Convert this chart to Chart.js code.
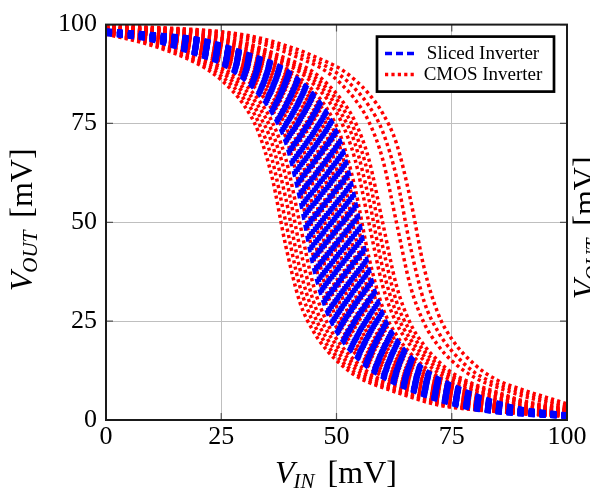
<!DOCTYPE html>
<html>
<head>
<meta charset="utf-8">
<script src="https://cdn.jsdelivr.net/npm/chart.js@4.4.0/dist/chart.umd.min.js"></script>
<style>
html, body { margin: 0; padding: 0; background: #fff; }
canvas { display: block; }
</style>
</head>
<body>
<canvas id="vtcChart" width="590" height="496"></canvas>
<script>
// input voltage samples [mV]
const vin = [0, 10, 20, 25, 30, 33, 36, 39, 42, 45, 48, 51, 54, 57, 60, 63, 66, 69, 72, 75, 80, 85, 90, 100];
const axisTicks = [0, 25, 50, 75, 100];
const legendLabels = ['Sliced Inverter', 'CMOS Inverter'];

// output voltage [mV] of each sliced inverter run (blue, dashed)
const slicedRuns = [
  [97.5, 95.9, 92.2, 90, 86, 82.5, 77.6, 70, 56, 38.5, 27, 20.5, 16.2, 13, 10.7, 9, 7.5, 6.1, 4.9, 3.9, 2.6, 1.8, 1.3, 0.7],
  [97.6, 96.1, 92.4, 90.3, 86.5, 83.2, 78.6, 71.5, 58.8, 41.3, 28.5, 21.5, 16.9, 13.5, 11, 9.3, 7.8, 6.3, 5.1, 4.1, 2.7, 1.9, 1.4, 0.7],
  [97.6, 96.2, 92.6, 90.5, 87, 83.8, 79.5, 73, 61.5, 44, 30, 22.4, 17.5, 14, 11.3, 9.5, 8, 6.5, 5.3, 4.2, 2.8, 1.9, 1.4, 0.7],
  [97.7, 96.4, 92.8, 90.8, 87.5, 84.4, 80.3, 74.3, 63.8, 47, 32, 23.5, 18.2, 14.5, 11.7, 9.8, 8.3, 6.8, 5.5, 4.4, 2.9, 2, 1.5, 0.8],
  [97.7, 96.5, 93, 91, 88, 85, 81.1, 75.5, 66, 50, 34, 24.5, 18.9, 15, 12, 10, 8.5, 7, 5.7, 4.5, 3, 2, 1.5, 0.8],
  [97.8, 96.6, 93.2, 91.2, 88.4, 85.5, 81.8, 76.6, 68, 53, 36.3, 25.8, 19.7, 15.6, 12.5, 10.4, 8.8, 7.3, 5.9, 4.7, 3.2, 2.1, 1.6, 0.8],
  [97.8, 96.6, 93.4, 91.4, 88.7, 86, 82.5, 77.6, 70, 56, 38.5, 27, 20.5, 16.2, 13, 10.7, 9, 7.5, 6.1, 4.9, 3.3, 2.2, 1.6, 0.8],
  [97.9, 96.7, 93.6, 91.6, 89, 86.5, 83.2, 78.6, 71.5, 58.8, 41.3, 28.5, 21.5, 16.9, 13.5, 11, 9.3, 7.8, 6.3, 5.1, 3.5, 2.3, 1.7, 0.9],
  [97.9, 96.8, 93.8, 91.8, 89.3, 87, 83.8, 79.5, 73, 61.5, 44, 30, 22.4, 17.5, 14, 11.3, 9.5, 8, 6.5, 5.3, 3.6, 2.4, 1.7, 0.9],
  [98, 96.9, 94, 92, 89.7, 87.5, 84.4, 80.3, 74.3, 63.8, 47, 32, 23.5, 18.2, 14.5, 11.7, 9.8, 8.3, 6.8, 5.5, 3.8, 2.5, 1.8, 0.9],
  [98, 97, 94.2, 92.2, 90, 88, 85, 81.1, 75.5, 66, 50, 34, 24.5, 18.9, 15, 12, 10, 8.5, 7, 5.7, 3.9, 2.6, 1.8, 0.9],
  [98.1, 97.1, 94.4, 92.4, 90.3, 88.4, 85.5, 81.8, 76.6, 68, 53, 36.3, 25.8, 19.7, 15.6, 12.5, 10.4, 8.8, 7.3, 5.9, 4.1, 2.7, 1.9, 1],
  [98.1, 97.1, 94.6, 92.6, 90.5, 88.7, 86, 82.5, 77.6, 70, 56, 38.5, 27, 20.5, 16.2, 13, 10.7, 9, 7.5, 6.1, 4.2, 2.8, 1.9, 1],
  [98.2, 97.2, 94.8, 92.8, 90.8, 89, 86.5, 83.2, 78.6, 71.5, 58.8, 41.3, 28.5, 21.5, 16.9, 13.5, 11, 9.3, 7.8, 6.3, 4.4, 2.9, 2, 1],
  [98.2, 97.2, 95, 93, 91, 89.3, 87, 83.8, 79.5, 73, 61.5, 44, 30, 22.4, 17.5, 14, 11.3, 9.5, 8, 6.5, 4.5, 3, 2, 1],
  [98.3, 97.3, 95.2, 93.2, 91.2, 89.7, 87.5, 84.4, 80.3, 74.3, 63.8, 47, 32, 23.5, 18.2, 14.5, 11.7, 9.8, 8.3, 6.8, 4.7, 3.2, 2.1, 1.1],
  [98.3, 97.3, 95.3, 93.4, 91.4, 90, 88, 85, 81.1, 75.5, 66, 50, 34, 24.5, 18.9, 15, 12, 10, 8.5, 7, 4.9, 3.3, 2.2, 1.1],
  [98.4, 97.4, 95.5, 93.6, 91.6, 90.3, 88.4, 85.5, 81.8, 76.6, 68, 53, 36.3, 25.8, 19.7, 15.6, 12.5, 10.4, 8.8, 7.3, 5.1, 3.5, 2.3, 1.2],
  [98.4, 97.4, 95.6, 93.8, 91.8, 90.5, 88.7, 86, 82.5, 77.6, 70, 56, 38.5, 27, 20.5, 16.2, 13, 10.7, 9, 7.5, 5.3, 3.6, 2.4, 1.2],
  [98.5, 97.5, 95.8, 94, 92, 90.8, 89, 86.5, 83.2, 78.6, 71.5, 58.8, 41.3, 28.5, 21.5, 16.9, 13.5, 11, 9.3, 7.8, 5.5, 3.8, 2.5, 1.3],
  [98.5, 97.5, 95.9, 94.2, 92.2, 91, 89.3, 87, 83.8, 79.5, 73, 61.5, 44, 30, 22.4, 17.5, 14, 11.3, 9.5, 8, 5.7, 3.9, 2.6, 1.3],
  [98.5, 97.6, 96.1, 94.4, 92.4, 91.2, 89.7, 87.5, 84.4, 80.3, 74.3, 63.8, 47, 32, 23.5, 18.2, 14.5, 11.7, 9.8, 8.3, 5.9, 4.1, 2.7, 1.4],
  [98.5, 97.6, 96.2, 94.6, 92.6, 91.4, 90, 88, 85, 81.1, 75.5, 66, 50, 34, 24.5, 18.9, 15, 12, 10, 8.5, 6.1, 4.2, 2.8, 1.4],
  [98.6, 97.7, 96.4, 94.8, 92.8, 91.6, 90.3, 88.4, 85.5, 81.8, 76.6, 68, 53, 36.3, 25.8, 19.7, 15.6, 12.5, 10.4, 8.8, 6.3, 4.4, 2.9, 1.5],
  [98.6, 97.7, 96.5, 95, 93, 91.8, 90.5, 88.7, 86, 82.5, 77.6, 70, 56, 38.5, 27, 20.5, 16.2, 13, 10.7, 9, 6.5, 4.5, 3, 1.5]
];

// output voltage [mV] of each CMOS inverter run (red, dotted)
const cmosRuns = [
  [97.6, 94.7, 90, 86, 79.5, 73, 61.5, 44, 30, 22.4, 17.5, 14, 11.3, 9.5, 8.2, 7, 5.8, 4.7, 3.8, 3.2, 2.6, 2.1, 1.6, 0.9],
  [97.8, 95.1, 90.5, 87, 81.1, 75.5, 66, 50, 34, 24.5, 18.9, 15, 12, 10, 8.6, 7.4, 6.2, 5, 4.1, 3.4, 2.7, 2.2, 1.7, 1],
  [98, 95.5, 91, 88, 82.5, 77.6, 70, 56, 38.5, 27, 20.5, 16.2, 13, 10.7, 9, 7.8, 6.6, 5.4, 4.4, 3.5, 2.8, 2.3, 1.8, 1],
  [98.1, 95.8, 91.5, 88.7, 83.8, 79.5, 73, 61.5, 44, 30, 22.4, 17.5, 14, 11.3, 9.5, 8.2, 7, 5.8, 4.7, 3.8, 2.9, 2.4, 1.9, 1.1],
  [98.2, 96.1, 92, 89.3, 85, 81.1, 75.5, 66, 50, 34, 24.5, 18.9, 15, 12, 10, 8.6, 7.4, 6.2, 5, 4.1, 3, 2.5, 2, 1.2],
  [98.4, 96.6, 92.8, 90.3, 86.5, 83.2, 78.6, 71.5, 58.8, 41.3, 28.5, 21.5, 16.9, 13.5, 11, 9.3, 8, 6.8, 5.6, 4.6, 3.3, 2.7, 2.2, 1.3],
  [98.5, 96.9, 93.3, 90.8, 87.5, 84.4, 80.3, 74.3, 63.8, 47, 32, 23.5, 18.2, 14.5, 11.7, 9.8, 8.4, 7.2, 6, 4.9, 3.5, 2.8, 2.3, 1.4],
  [98.6, 97.1, 93.7, 91.3, 88.4, 85.5, 81.8, 76.6, 68, 53, 36.3, 25.8, 19.7, 15.6, 12.5, 10.4, 8.8, 7.6, 6.4, 5.2, 3.7, 2.9, 2.4, 1.5],
  [98.7, 97.3, 94.1, 91.8, 89, 86.5, 83.2, 78.6, 71.5, 58.8, 41.3, 28.5, 21.5, 16.9, 13.5, 11, 9.3, 8, 6.8, 5.6, 4, 3, 2.5, 1.5],
  [98.8, 97.5, 94.5, 92.3, 89.7, 87.5, 84.4, 80.3, 74.3, 63.8, 47, 32, 23.5, 18.2, 14.5, 11.7, 9.8, 8.4, 7.2, 6, 4.3, 3.1, 2.6, 1.6],
  [98.9, 97.7, 94.9, 92.8, 90.3, 88.4, 85.5, 81.8, 76.6, 68, 53, 36.3, 25.8, 19.7, 15.6, 12.5, 10.4, 8.8, 7.6, 6.4, 4.6, 3.3, 2.7, 1.7],
  [99, 97.9, 95.3, 93.3, 90.8, 89, 86.5, 83.2, 78.6, 71.5, 58.8, 41.3, 28.5, 21.5, 16.9, 13.5, 11, 9.3, 8, 6.8, 4.9, 3.5, 2.8, 1.8],
  [99, 98.1, 95.7, 93.7, 91.3, 89.7, 87.5, 84.4, 80.3, 74.3, 63.8, 47, 32, 23.5, 18.2, 14.5, 11.7, 9.8, 8.4, 7.2, 5.2, 3.7, 2.9, 1.9],
  [99.1, 98.2, 96, 94.1, 91.8, 90.3, 88.4, 85.5, 81.8, 76.6, 68, 53, 36.3, 25.8, 19.7, 15.6, 12.5, 10.4, 8.8, 7.6, 5.6, 4, 3, 2],
  [99.1, 98.3, 96.3, 94.5, 92.3, 90.8, 89, 86.5, 83.2, 78.6, 71.5, 58.8, 41.3, 28.5, 21.5, 16.9, 13.5, 11, 9.3, 8, 6, 4.3, 3.1, 2.1],
  [99.2, 98.4, 96.6, 94.9, 92.8, 91.3, 89.7, 87.5, 84.4, 80.3, 74.3, 63.8, 47, 32, 23.5, 18.2, 14.5, 11.7, 9.8, 8.4, 6.4, 4.6, 3.3, 2.2],
  [99.2, 98.5, 96.9, 95.3, 93.3, 91.8, 90.3, 88.4, 85.5, 81.8, 76.6, 68, 53, 36.3, 25.8, 19.7, 15.6, 12.5, 10.4, 8.8, 6.8, 4.9, 3.5, 2.3],
  [99.2, 98.6, 97.1, 95.7, 93.7, 92.3, 90.8, 89, 86.5, 83.2, 78.6, 71.5, 58.8, 41.3, 28.5, 21.5, 16.9, 13.5, 11, 9.3, 7.2, 5.2, 3.7, 2.4],
  [99.3, 98.7, 97.4, 96.1, 94.3, 93, 91.5, 90, 88, 85, 81.1, 75.5, 66, 50, 34, 24.5, 18.9, 15, 12, 10, 7.8, 5.8, 4.1, 2.5],
  [99.3, 98.8, 97.6, 96.4, 94.7, 93.5, 92, 90.5, 88.7, 86, 82.5, 77.6, 70, 56, 38.5, 27, 20.5, 16.2, 13, 10.7, 8.2, 6.2, 4.4, 2.6],
  [99.4, 98.9, 97.8, 96.7, 95.1, 93.9, 92.5, 91, 89.3, 87, 83.8, 79.5, 73, 61.5, 44, 30, 22.4, 17.5, 14, 11.3, 8.6, 6.6, 4.7, 2.7],
  [99.4, 99, 98, 97, 95.5, 94.3, 93, 91.5, 90, 88, 85, 81.1, 75.5, 66, 50, 34, 24.5, 18.9, 15, 12, 9, 7, 5, 2.8],
  [99.5, 99.1, 98.3, 97.6, 96.4, 95.5, 94.3, 93, 91.5, 90, 88, 85, 81.1, 75.5, 66, 50, 34, 24.5, 18.9, 15, 10.7, 8.2, 6.2, 3.2],
  [99.6, 99.2, 98.5, 98, 97, 96.1, 95.1, 93.9, 92.5, 91, 89.3, 87, 83.8, 79.5, 73, 61.5, 44, 30, 22.4, 17.5, 12, 9, 7, 3.5],
  [99.6, 99.3, 98.7, 98.2, 97.4, 96.7, 95.8, 94.7, 93.5, 92, 90.5, 88.7, 86, 82.5, 77.6, 70, 56, 38.5, 27, 20.5, 14, 10, 7.8, 4.1]
];

const serif = "'Liberation Serif', 'DejaVu Serif', serif";
const blue = '#0000ff';
const red = '#ff0000';
const blueDash = [6, 5];
const redDash = [3.2, 3.2];

function toPoints(ys) {
  return ys.map((y, i) => ({ x: vin[i], y: y }));
}

const datasets = [];
slicedRuns.forEach(ys => datasets.push({
  label: legendLabels[0],
  data: toPoints(ys),
  borderColor: blue,
  borderWidth: 3.5,
  borderDash: blueDash,
  order: 0
}));
cmosRuns.forEach(ys => datasets.push({
  label: legendLabels[1],
  data: toPoints(ys),
  borderColor: red,
  borderWidth: 3.5,
  borderDash: redDash,
  order: 1
}));

// "V_sub [mV]" centred on (0,0), alphabetic baseline
function drawVoltTitle(ctx, sub) {
  ctx.textAlign = 'left';
  ctx.textBaseline = 'alphabetic';
  ctx.fillStyle = '#000';
  ctx.font = 'italic 32px ' + serif;
  const wV = ctx.measureText('V').width;
  ctx.font = 'italic 21px ' + serif;
  const wS = ctx.measureText(sub).width;
  ctx.font = '32px ' + serif;
  const wU = ctx.measureText('[mV]').width;
  const gap = 13;
  let x = -(wV + wS + gap + wU) / 2;
  ctx.font = 'italic 32px ' + serif;
  ctx.fillText('V', x, 0);
  x += wV - 1;
  ctx.font = 'italic 21px ' + serif;
  ctx.fillText(sub, x, 5);
  x += wS + gap;
  ctx.font = '32px ' + serif;
  ctx.fillText('[mV]', x, 0);
}

const decorations = {
  id: 'decorations',
  afterDatasetsDraw(chart) {
    const { ctx, chartArea: a, scales } = chart;
    const sx = scales.x, sy = scales.y;
    ctx.save();

    // inward tick marks on all four sides
    ctx.strokeStyle = '#555';
    ctx.lineWidth = 1.2;
    ctx.beginPath();
    axisTicks.forEach(v => {
      const px = sx.getPixelForValue(v);
      const py = sy.getPixelForValue(v);
      ctx.moveTo(px, a.bottom); ctx.lineTo(px, a.bottom - 7);
      ctx.moveTo(px, a.top); ctx.lineTo(px, a.top + 7);
      ctx.moveTo(a.left, py); ctx.lineTo(a.left + 7, py);
      ctx.moveTo(a.right, py); ctx.lineTo(a.right - 7, py);
    });
    ctx.stroke();

    // axis frame
    ctx.strokeStyle = '#1a1a1a';
    ctx.lineWidth = 2;
    ctx.strokeRect(a.left, a.top, a.right - a.left, a.bottom - a.top);

    // legend box
    const lx = a.right - 190, ly = a.top + 12, lw = 177, lh = 55;
    ctx.fillStyle = '#fff';
    ctx.fillRect(lx, ly, lw, lh);
    ctx.strokeStyle = '#000';
    ctx.lineWidth = 2.7;
    ctx.strokeRect(lx, ly, lw, lh);

    const rows = [
      { color: blue, dash: [7, 4], y: ly + 17, text: legendLabels[0] },
      { color: red, dash: redDash, y: ly + 38, text: legendLabels[1] }
    ];
    rows.forEach(r => {
      ctx.strokeStyle = r.color;
      ctx.lineWidth = 3.5;
      ctx.setLineDash(r.dash);
      ctx.beginPath();
      ctx.moveTo(lx + 8, r.y);
      ctx.lineTo(lx + 38, r.y);
      ctx.stroke();
      ctx.setLineDash([]);
      ctx.fillStyle = '#000';
      ctx.font = '19px ' + serif;
      ctx.textAlign = 'center';
      ctx.textBaseline = 'alphabetic';
      ctx.fillText(r.text, lx + 106, r.y + 5);
    });
    ctx.restore();
  },
  afterDraw(chart) {
    const { ctx, chartArea: a } = chart;
    const cx = (a.left + a.right) / 2;
    const cy = (a.top + a.bottom) / 2;
    ctx.save();
    ctx.translate(cx, 483);
    drawVoltTitle(ctx, 'IN');
    ctx.restore();

    ctx.save();
    ctx.translate(32, cy - 3);
    ctx.rotate(-Math.PI / 2);
    drawVoltTitle(ctx, 'OUT');
    ctx.restore();

    // y title of the neighbouring figure, cut by the right edge
    ctx.save();
    ctx.translate(595, cy + 5);
    ctx.rotate(-Math.PI / 2);
    drawVoltTitle(ctx, 'OUT');
    ctx.restore();
  }
};

Chart.defaults.font.family = serif;
Chart.defaults.color = '#000';

new Chart(document.getElementById('vtcChart').getContext('2d'), {
  type: 'line',
  data: { datasets: datasets },
  options: {
    responsive: false,
    animation: false,
    events: [],
    devicePixelRatio: 1,
    layout: { padding: { top: 22, right: 23, left: 0, bottom: 0 } },
    elements: {
      point: { radius: 0 },
      line: { fill: false, cubicInterpolationMode: 'monotone', borderCapStyle: 'butt' }
    },
    plugins: {
      legend: { display: false },
      tooltip: { enabled: false }
    },
    scales: {
      x: {
        type: 'linear',
        min: 0,
        max: 100,
        afterFit(s) { s.height = 76; },
        afterBuildTicks(s) { s.ticks = axisTicks.map(v => ({ value: v })); },
        ticks: { font: { size: 26 }, padding: 2, maxRotation: 0, autoSkip: false },
        grid: { color: '#bfbfbf', lineWidth: 1, drawTicks: false },
        border: { display: false }
      },
      y: {
        type: 'linear',
        min: 0,
        max: 100,
        afterFit(s) { s.width = 106; },
        afterBuildTicks(s) { s.ticks = axisTicks.map(v => ({ value: v })); },
        ticks: { font: { size: 26 }, padding: 9, autoSkip: false },
        grid: { color: '#bfbfbf', lineWidth: 1, drawTicks: false },
        border: { display: false }
      }
    }
  },
  plugins: [decorations]
});
</script>
</body>
</html>
